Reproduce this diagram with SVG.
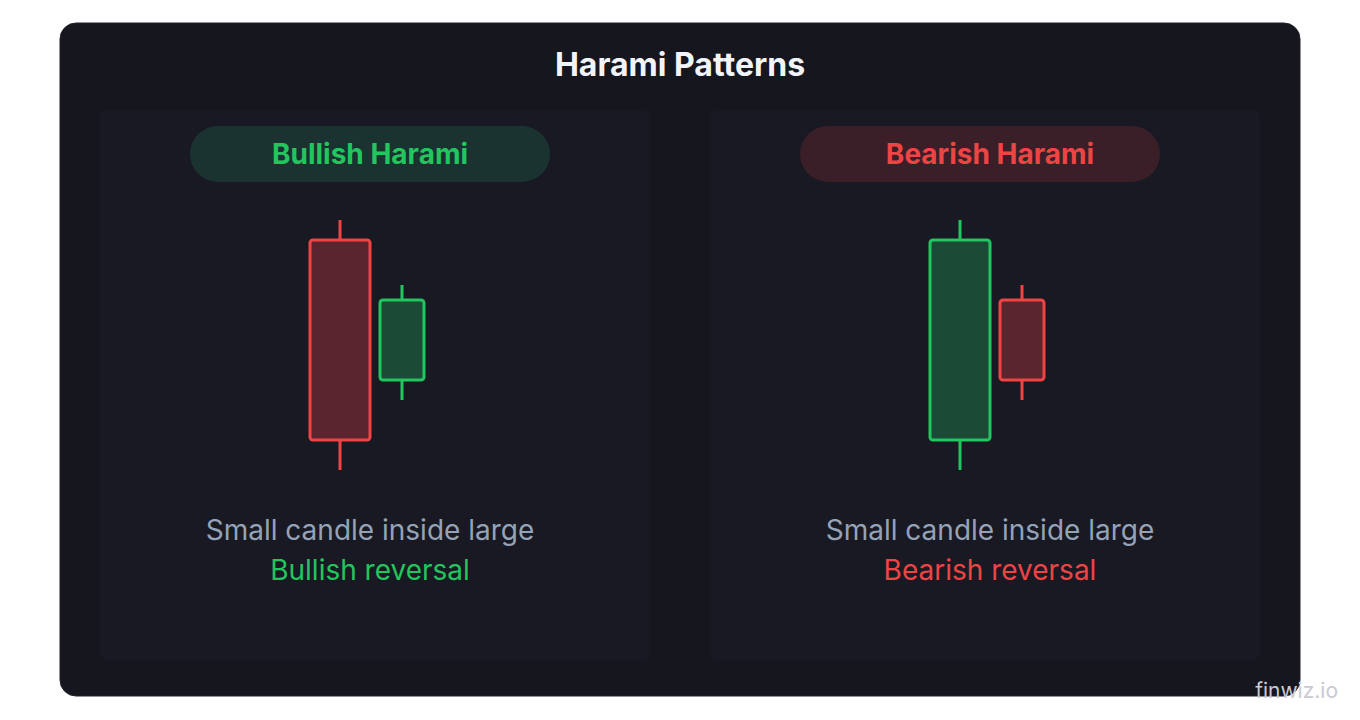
<svg xmlns="http://www.w3.org/2000/svg" width="1360" height="720" viewBox="0 0 1360 720">
<style>
.t{font-family:Inter,"Noto Sans","Liberation Sans",sans-serif}
.title{font-size:32px;font-weight:700;fill:#f1f5f9}
.pill{font-size:28px;font-weight:700}
.desc{font-size:28px;fill:#94a3b8}
.lbl{font-size:28px}
.g{fill:#22c55e}.r{fill:#ef4444}
.bodyG{fill:#1b4a37;stroke:#22c55e;stroke-width:3}
.bodyR{fill:#5a252e;stroke:#ef4444;stroke-width:3}
.wG{stroke:#22c55e;stroke-width:3}
.wR{stroke:#ef4444;stroke-width:3}
</style>
<rect width="1360" height="720" fill="#ffffff"/>
<rect x="60" y="23" width="1240" height="673" rx="16" fill="#16161f" stroke="#20202b" stroke-width="1"/>
<text class="t title" x="680" y="76" text-anchor="middle">Harami Patterns</text>
<g id="bullish">
<rect x="100" y="110" width="550" height="550" rx="8" fill="#191923"/>
<rect x="190" y="126" width="360" height="56" rx="28" fill="#1a3330"/>
<text class="t pill g" x="370" y="164" text-anchor="middle">Bullish Harami</text>
<line class="wR" x1="340" y1="220" x2="340" y2="470"/>
<rect class="bodyR" x="310" y="240" width="60" height="200" rx="3"/>
<line class="wG" x1="402" y1="285" x2="402" y2="400"/>
<rect class="bodyG" x="380" y="300" width="44" height="80" rx="3"/>
<text class="t desc" x="370" y="540" text-anchor="middle">Small candle inside large</text>
<text class="t lbl g" x="370" y="580" text-anchor="middle">Bullish reversal</text>
</g>
<g id="bearish">
<rect x="710" y="110" width="550" height="550" rx="8" fill="#191923"/>
<rect x="800" y="126" width="360" height="56" rx="28" fill="#3a1f28"/>
<text class="t pill r" x="990" y="164" text-anchor="middle">Bearish Harami</text>
<line class="wG" x1="960" y1="220" x2="960" y2="470"/>
<rect class="bodyG" x="930" y="240" width="60" height="200" rx="3"/>
<line class="wR" x1="1022" y1="285" x2="1022" y2="400"/>
<rect class="bodyR" x="1000" y="300" width="44" height="80" rx="3"/>
<text class="t desc" x="990" y="540" text-anchor="middle">Small candle inside large</text>
<text class="t lbl r" x="990" y="580" text-anchor="middle">Bearish reversal</text>
</g>
<g id="connectors"/>
<text class="t" x="1338" y="698" text-anchor="end" font-size="21" fill="#c9cad3">finwiz.io</text>
</svg>
